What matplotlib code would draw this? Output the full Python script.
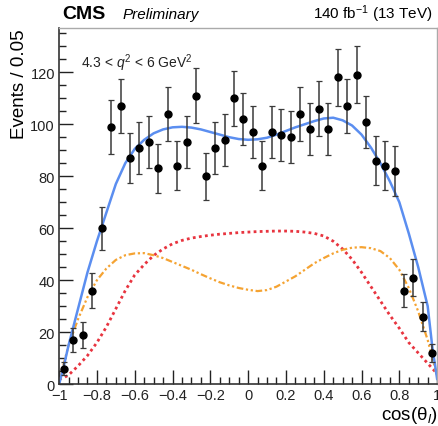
import numpy as np
import matplotlib
matplotlib.use('Agg')
import matplotlib.pyplot as plt
from matplotlib.ticker import MultipleLocator

plt.rcParams['font.family'] = ['Liberation Sans', 'DejaVu Sans']
plt.rcParams['mathtext.fontset'] = 'custom'
plt.rcParams['mathtext.rm'] = 'Liberation Sans'
plt.rcParams['mathtext.it'] = 'Liberation Sans:italic'

# binned data, 40 bins of width 0.05
bin_centers = np.arange(-0.975, 1.0, 0.05)
events = [6, 17, 19, 36, 60, 99, 107, 87, 91, 93,
          83, 104, 84, 93, 111, 80, 91, 94, 110, 102,
          97, 84, 97, 96, 95, 104, 98, 106, 98, 118,
          107, 119, 101, 86, 84, 82, 36, 41, 26, 12]
errors = [2.5, 4.5, 5, 6.7, 8.3, 10.5, 10.5, 9.5, 10, 10,
          9.5, 10.5, 9.5, 10, 10.5, 9, 10, 10, 10.5, 10,
          10, 9.5, 10, 10, 10, 10.5, 10, 10.5, 10, 11,
          10.5, 11, 10, 9.5, 9.5, 9.5, 6.5, 7, 5.5, 3.5]

# fit projections sampled along cos(theta_l)
curve_x = [-1.0, -0.975, -0.95, -0.9, -0.85, -0.8, -0.75, -0.7, -0.65, -0.6, -0.55,
           -0.5, -0.45, -0.4, -0.35, -0.3, -0.25, -0.2, -0.15, -0.1, -0.05,
           0.0, 0.05, 0.1, 0.15, 0.2, 0.25, 0.3, 0.35, 0.4, 0.45,
           0.5, 0.55, 0.6, 0.65, 0.7, 0.75, 0.8, 0.85, 0.9, 0.95, 0.975, 1.0]
total_fit = [0, 7, 15, 29, 43, 55, 66, 77, 85, 90.5, 94,
             96.5, 98, 98.8, 99, 98.7, 98, 97, 96, 95, 94.3,
             94, 94.2, 94.8, 96, 97.4, 98.8, 100, 101.2, 102.2, 102.5,
             101.5, 99.5, 96, 91, 85, 78, 70, 58, 45, 30, 14, 2]
signal_a = [0, 8, 15, 25, 33.5, 40, 44.5, 47.8, 49.6, 50.3, 50.4,
            49.6, 48.5, 47, 45.5, 44, 42.3, 40.7, 39.2, 38, 37,
            36.3, 35.8, 36.2, 37.5, 39.5, 41.5, 44, 46.5, 48.5, 50.3,
            51.7, 52.5, 52.7, 52.3, 51.2, 48.5, 44, 37, 28, 17, 10, 3]
signal_b = [2, 2.5, 3.5, 7, 11, 16, 22, 29, 36, 42, 46,
            49.5, 52, 54, 55.3, 56.2, 56.8, 57.3, 57.7, 58, 58.3,
            58.5, 58.7, 58.8, 58.9, 58.9, 58.8, 58.5, 58, 57, 55,
            52, 48, 43, 37.5, 32, 26.5, 21.5, 16, 12, 8, 6, 4]

fig = plt.figure(figsize=(4.38, 4.27), dpi=100)
ax = fig.add_axes([0.135, 0.098, 0.863, 0.834])

ax.plot(curve_x, signal_b, color='#e8343f', lw=2, linestyle=(0, (1, 1.2)))
ax.plot(curve_x, signal_a, color='#f5a332', lw=1.6,
        linestyle=(0, (3, 1.2, 1, 1.2, 1, 1.2)))
ax.plot(curve_x, total_fit, color='#5b8ef0', lw=1.8)
ax.errorbar(bin_centers, events, yerr=errors, fmt='o', color='black',
            ecolor='#3a3a3a', elinewidth=1.1, capsize=2.5, capthick=0.9,
            markersize=5)

ax.set_xlim(-1, 1)
ax.set_ylim(0, 137)
ax.xaxis.set_major_locator(MultipleLocator(0.2))
ax.xaxis.set_minor_locator(MultipleLocator(0.05))
ax.yaxis.set_major_locator(MultipleLocator(20))
ax.yaxis.set_minor_locator(MultipleLocator(5))
ax.tick_params(which='both', direction='in', top=False, right=False,
               labelsize=10.5, colors='#222222', width=1)
ax.tick_params(which='major', length=10, pad=3)
ax.tick_params(which='minor', length=5)
ax.set_xticks([-1, -0.8, -0.6, -0.4, -0.2, 0, 0.2, 0.4, 0.6, 0.8, 1])
ax.set_xticklabels(['\u22121', '\u22120.8', '\u22120.6', '\u22120.4', '\u22120.2',
                    '0', '0.2', '0.4', '0.6', '0.8', '1'])
for sp in ['left', 'bottom']:
    ax.spines[sp].set_color('#333333')
    ax.spines[sp].set_linewidth(1.2)
for sp in ['top', 'right']:
    ax.spines[sp].set_color('#aaaaaa')
    ax.spines[sp].set_linewidth(1)

ax.set_ylabel('Events / 0.05', fontsize=13.5, loc='top', labelpad=2)
ax.set_xlabel(r'cos($\mathrm{\theta}_l$)', fontsize=13.5, loc='right', labelpad=1)

fig.text(0.142, 0.955, 'CMS', fontsize=14, fontweight='bold', va='baseline')
fig.text(0.279, 0.955, 'Preliminary', fontsize=11, style='italic', va='baseline')
fig.text(0.987, 0.955, r'140 fb$^{-1}$ (13 TeV)', fontsize=11, ha='right', va='baseline')
ax.text(0.058, 0.935, r'4.3 < $q^2$ < 6 GeV$^2$', transform=ax.transAxes,
        fontsize=10, va='top', color='#222222')

fig.savefig('out.png', dpi=100)
